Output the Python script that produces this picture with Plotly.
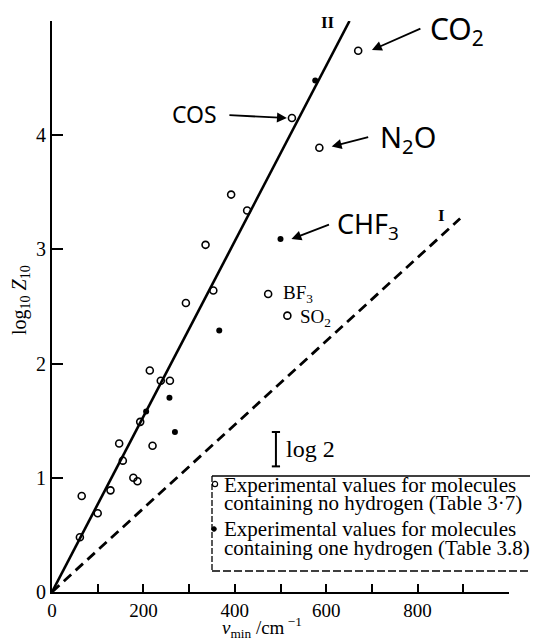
import plotly.graph_objects as go

# ---- data ----
open_x = [61, 65, 100, 128, 155, 147, 193, 178, 187, 220, 214, 238, 258, 293,
          336, 353, 392, 427, 473, 515, 525, 585, 670]
open_y = [0.48, 0.84, 0.69, 0.89, 1.15, 1.30, 1.49, 1.00, 0.97, 1.28, 1.94, 1.85, 1.85, 2.53,
          3.04, 2.64, 3.48, 3.34, 2.61, 2.42, 4.15, 3.89, 4.74]
filled_x = [206, 257, 269, 366, 500, 576]
filled_y = [1.58, 1.70, 1.40, 2.29, 3.09, 4.48]

line2_x = [0, 651]
line2_y = [0, 5.0]
line1_x = [0, 893]
line1_y = [0, 3.27]

x_ticks = [0, 100, 200, 300, 400, 500, 600, 700, 800, 900, 1000]
x_ticktext = ["0", "", "200", "", "400", "", "600", "", "800", "", ""]
y_ticks = [0, 1, 2, 3, 4, 5]
y_ticktext = ["0", "1", "2", "3", "4", ""]

SERIF = "Liberation Serif, Times New Roman, serif"
HAND = "Noto Sans, DejaVu Sans, sans-serif"

# plot area in page pixels: x 52..509, y 21..592 (page has an 8px body margin)
PL, PT, PW, PH = 52, 21, 457, 571

fig = go.Figure()
fig.add_trace(go.Scatter(x=line2_x, y=line2_y, mode="lines",
                         line=dict(color="black", width=2.6), showlegend=False))
fig.add_trace(go.Scatter(x=line1_x, y=line1_y, mode="lines",
                         line=dict(color="black", width=2.8, dash="10px,6px"), showlegend=False))
fig.add_trace(go.Scatter(x=open_x, y=open_y, mode="markers",
                         marker=dict(symbol="circle-open", size=7, color="black",
                                     line=dict(width=1.6, color="black")),
                         showlegend=False, cliponaxis=False))
fig.add_trace(go.Scatter(x=filled_x, y=filled_y, mode="markers",
                         marker=dict(symbol="circle", size=6, color="black"),
                         showlegend=False, cliponaxis=False))


def px2paper(px, py):
    return (px - PL) / PW, (PT + PH - py) / PH


ann = []
# line labels
ann.append(dict(x=605, y=4.99, text="<b>II</b>", showarrow=False, font=dict(family=SERIF, size=17)))
ann.append(dict(x=853, y=3.30, text="<b>I</b>", showarrow=False, font=dict(family=SERIF, size=17)))
# printed labels
ann.append(dict(x=501, y=2.61, text="BF<sub>3</sub>", xanchor="left", showarrow=False,
                font=dict(family=SERIF, size=19)))
ann.append(dict(x=538, y=2.40, text="SO<sub>2</sub>", xanchor="left", showarrow=False,
                font=dict(family=SERIF, size=19)))
# handwritten labels
ann.append(dict(x=886, y=4.92, text="CO<sub>2</sub>", showarrow=False, font=dict(family=HAND, size=30)))
ann.append(dict(x=779, y=3.97, text="N<sub>2</sub>O", showarrow=False, font=dict(family=HAND, size=29)))
ann.append(dict(x=311, y=4.19, text="COS", showarrow=False, font=dict(family=HAND, size=23)))
ann.append(dict(x=691, y=3.21, text="CHF<sub>3</sub>", showarrow=False, font=dict(family=HAND, size=27)))
# arrows
for tx, ty, axp, ayp in [(700, 4.746, 50, -22), (612, 3.90, 38, -10),
                         (514, 4.15, -59, -3), (524, 3.09, 39, -15)]:
    ann.append(dict(x=tx, y=ty, ax=axp, ay=ayp, text="", showarrow=True,
                    arrowhead=2, arrowsize=1.1, arrowwidth=1.8, arrowcolor="black"))
# log 2 label
ann.append(dict(x=508, y=1.25, text="log 2", xanchor="left", showarrow=False,
                font=dict(family=SERIF, size=24)))
# axis titles
tx, ty = px2paper(20, 300)
ann.append(dict(xref="paper", yref="paper", x=tx, y=ty, xanchor="center", yanchor="middle",
                text="log<sub>10</sub> <i>Z</i><sub>10</sub>", textangle=-90, showarrow=False,
                font=dict(family=SERIF, size=20)))
tx, ty = px2paper(262, 627)
ann.append(dict(xref="paper", yref="paper", x=tx, y=ty, xanchor="center", yanchor="middle",
                text="<i>ν</i><sub>min</sub> /cm<sup> −1</sup>", showarrow=False,
                font=dict(family=SERIF, size=19)))
# legend text
for py, txt in [(485, "Experimental values for molecules"),
                (503, "containing no hydrogen (Table 3·7)"),
                (529, "Experimental values for molecules"),
                (548, "containing one hydrogen (Table 3.8)")]:
    lx, ly = px2paper(222, py)
    ann.append(dict(xref="paper", yref="paper", x=lx, y=ly,
                    xanchor="left", yanchor="middle", text=txt, showarrow=False,
                    font=dict(family=SERIF, size=21)))

shapes = []
# log 2 bar
shapes.append(dict(type="line", x0=490, x1=490, y0=1.10, y1=1.401, line=dict(color="black", width=2)))
shapes.append(dict(type="line", x0=481, x1=499, y0=1.10, y1=1.10, line=dict(color="black", width=2)))
shapes.append(dict(type="line", x0=481, x1=499, y0=1.401, y1=1.401, line=dict(color="black", width=2)))
# legend box
x0, y0 = px2paper(212, 476)
x1, y1 = px2paper(540, 571)
shapes.append(dict(type="line", xref="paper", yref="paper", x0=x0, x1=x1, y0=y0, y1=y0,
                   line=dict(color="black", width=1.5)))
shapes.append(dict(type="line", xref="paper", yref="paper", x0=x0, x1=x0, y0=y0, y1=y1,
                   line=dict(color="black", width=1.3, dash="6px,2px")))
shapes.append(dict(type="line", xref="paper", yref="paper", x0=x0, x1=x1, y0=y1, y1=y1,
                   line=dict(color="black", width=1.3, dash="8px,3px")))
# legend symbols
cx, cy = px2paper(215, 484)
shapes.append(dict(type="circle", xref="paper", yref="paper",
                   x0=cx - 2.6 / PW, x1=cx + 2.6 / PW, y0=cy - 2.6 / PH, y1=cy + 2.6 / PH,
                   line=dict(color="black", width=1.2)))
cx, cy = px2paper(214, 529)
shapes.append(dict(type="circle", xref="paper", yref="paper", fillcolor="black",
                   x0=cx - 2.3 / PW, x1=cx + 2.3 / PW, y0=cy - 2.3 / PH, y1=cy + 2.3 / PH,
                   line=dict(color="black", width=1)))

W, H = 538, 640
fig.update_layout(
    width=W, height=H,
    margin=dict(l=PL - 8, r=W - (PL - 8) - PW, t=PT - 8, b=H - (PT - 8) - PH),
    paper_bgcolor="white", plot_bgcolor="white",
    showlegend=False,
    annotations=ann, shapes=shapes,
    font=dict(family=SERIF, color="black"),
)
fig.update_xaxes(range=[0, 1000], tickvals=x_ticks, ticktext=x_ticktext,
                 showgrid=False, zeroline=False, showline=True, linecolor="black", linewidth=2,
                 ticks="inside", ticklen=8, tickwidth=1.8, tickcolor="black", automargin=False,
                 tickfont=dict(family=SERIF, size=19, color="black"))
fig.update_yaxes(range=[0, 5.0], tickvals=y_ticks, ticktext=y_ticktext,
                 showgrid=False, zeroline=False, showline=True, linecolor="black", linewidth=2,
                 ticks="inside", ticklen=11, tickwidth=1.8, tickcolor="black", automargin=False,
                 tickfont=dict(family=SERIF, size=20, color="black"))

fig.write_html("out.html")
